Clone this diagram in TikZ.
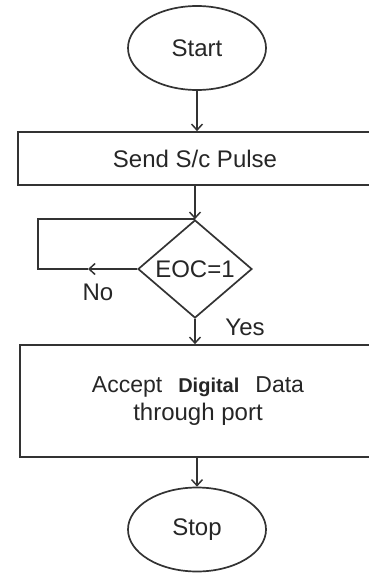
\documentclass[tikz,border=0pt]{standalone}
\usepackage{fontspec}
\setmainfont{Liberation Sans}
\usetikzlibrary{shapes.geometric,arrows.meta}
\begin{document}
\begin{tikzpicture}[x=1pt,y=-1pt,
  ln/.style={draw=black!80, line width=1.7pt},
  arr/.style={ln, -{Straight Barb[length=6pt,width=11pt,line width=1.5pt]}},
  term/.style={ellipse, ln, minimum width=138pt, minimum height=84pt, inner sep=0pt},
  proc/.style={rectangle, ln, inner sep=0pt},
  decn/.style={diamond, ln, minimum width=114pt, minimum height=98pt, inner sep=0pt},
  lbl/.style={inner sep=0pt},
  font=\fontsize{24}{28}\selectfont, text=black!85]
\useasboundingbox (0,0) rectangle (369,573);
\clip (0,0) rectangle (369,573);
\node[term] (start) at (197,48) {Start};
\node[proc, minimum width=354pt, minimum height=53pt] (send) at (195,158.5) {Send S/c Pulse};
\node[decn] (eoc) at (195,269) {EOC=1};
\node[proc, minimum width=356pt, minimum height=112pt, align=center] (acc) at (198,401)
  {\fontsize{23}{28}\selectfont Accept\hspace{16pt}{\fontsize{20}{28}\selectfont\bfseries Digital}\hspace{16pt}Data\\through port};
\node[term] (stop) at (197,529.5) {Stop};
\node[lbl] (no) at (98,292) {No};
\node[lbl] (yes) at (245,327) {Yes};
\coordinate (nomark) at (88,269);
\coordinate (loopc) at (38,269);
\draw[arr] (start.south) -- (start.south |- send.north);
\draw[arr] (send.south) -- (eoc.north);
\draw[arr] (eoc.west) -- (nomark);
\draw[ln] (nomark) -- (loopc) |- (eoc.north);
\draw[arr] (eoc.south) -- (eoc.south |- acc.north);
\draw[arr] (acc.south -| stop.north) -- (stop.north);
\end{tikzpicture}
\end{document}
